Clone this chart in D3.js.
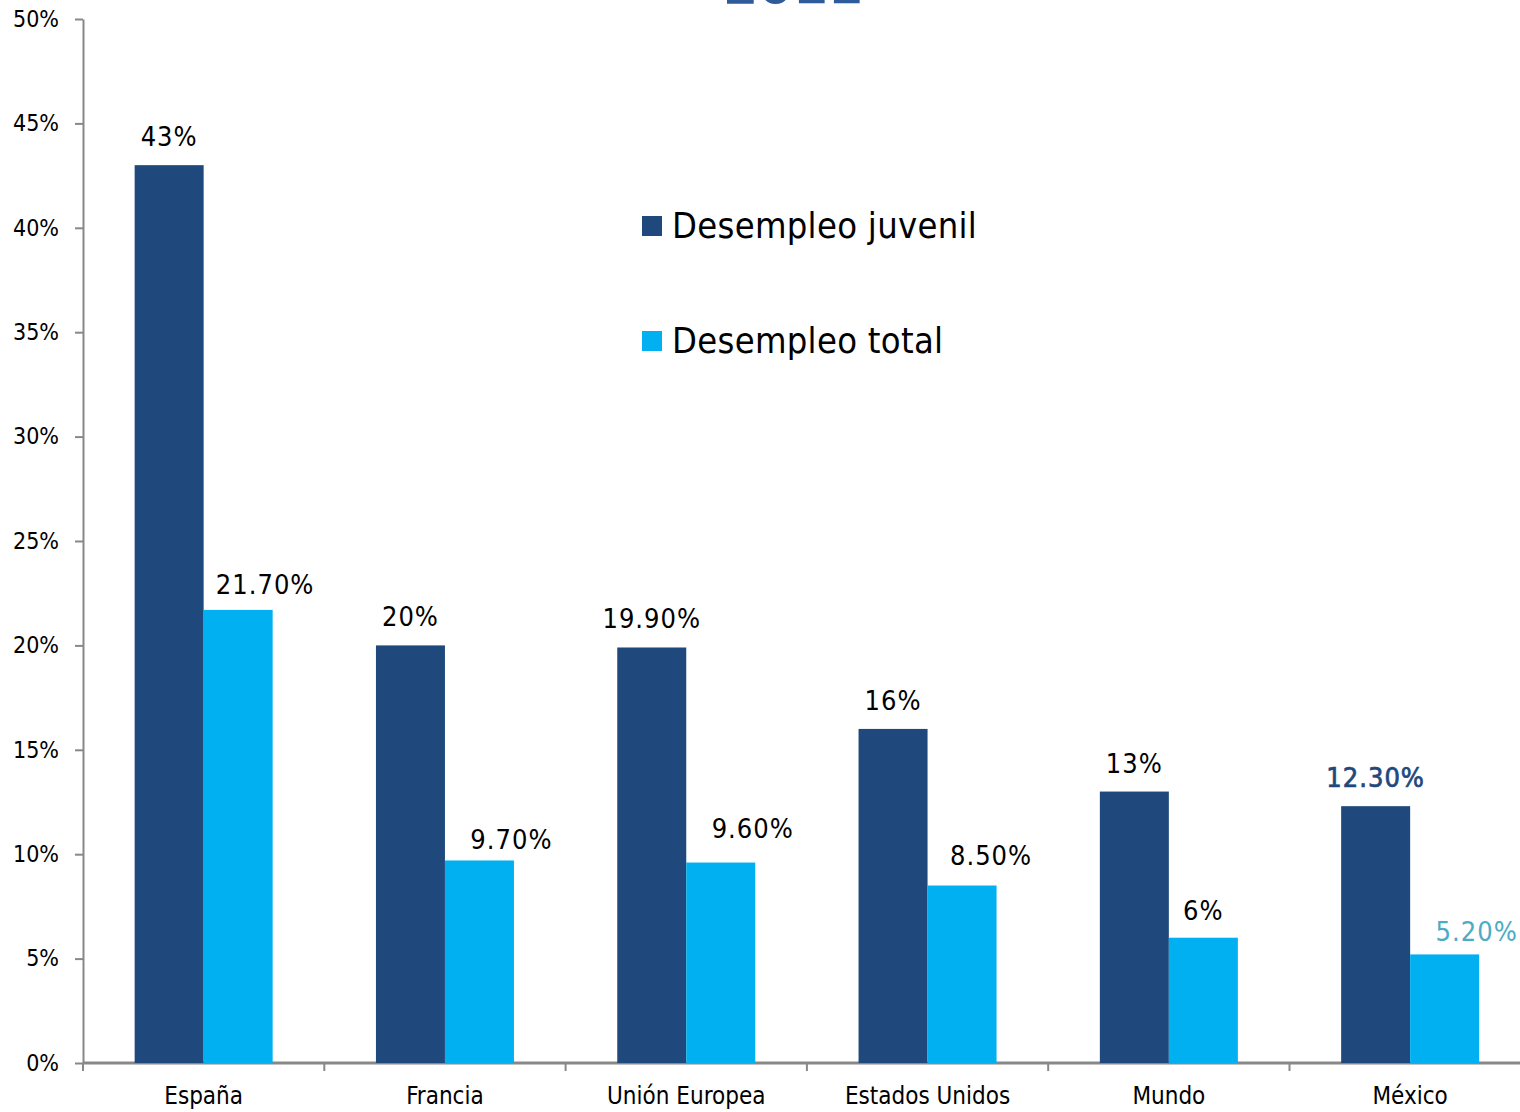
<!DOCTYPE html>
<html>
<head>
<meta charset="utf-8">
<script src="https://cdn.jsdelivr.net/npm/d3@7"></script>
<style>
  html,body{margin:0;padding:0;background:#fff;}
  svg{display:block;font-family:"DejaVu Sans Condensed","DejaVu Sans",sans-serif;}
</style>
</head>
<body>
<svg id="chart" width="1520" height="1112"></svg>
<script>
// data
const categories = ['España','Francia','Unión Europea','Estados Unidos','Mundo','México'];
const juvenil = [43, 20, 19.9, 16, 13, 12.3];
const total   = [21.7, 9.7, 9.6, 8.5, 6, 5.2];
const juvenilLabels = ['43%','20%','19.90%','16%','13%','12.30%'];
const totalLabels   = ['21.70%','9.70%','9.60%','8.50%','6%','5.20%'];
const yTicks = [0,5,10,15,20,25,30,35,40,45,50];
const seriesNames = ['Desempleo juvenil','Desempleo total'];

const DARK = '#1f497d', LIGHT = '#00b0f0', AXIS = '#888';
// hand nudges the original applied to the total labels (px)
const totalLabelDx = [27, 32, 32, 29, 0, 32];
const totalLabelGap = [16, 11, 25, 21, 18, 13];

const svg = d3.select('#chart');
const mLeft = 83, mBottom = 1063, mTop = 19;

const y = d3.scaleLinear().domain([0,50]).range([mBottom, mTop]);
const x0 = d3.scaleBand().domain(categories).range([mLeft, mLeft + 6*241.3]).padding(0);
const barW = 69;

// title (cut off at top in the original)
svg.append('text').attr('x', 793).attr('y', 3)
  .attr('text-anchor','middle').attr('font-size', 56).attr('font-weight','bold')
  .attr('fill','#2e5c9a').text('2011');

// y axis
const yAxis = svg.append('g').attr('transform',`translate(${mLeft},0)`)
  .call(d3.axisLeft(y).tickValues(yTicks).tickFormat(d=>d+'%').tickSize(8).tickSizeOuter(0));
yAxis.select('.domain').attr('stroke',AXIS).attr('stroke-width',2);
yAxis.selectAll('.tick line').attr('stroke',AXIS).attr('stroke-width',2);
yAxis.selectAll('.tick text').attr('font-size',23).attr('fill','#000').attr('x',-24)
  .attr('font-family','"DejaVu Sans Condensed",sans-serif');

// x axis line + boundary ticks
svg.append('line').attr('x1',mLeft).attr('x2',1520).attr('y1',mBottom).attr('y2',mBottom)
  .attr('stroke',AXIS).attr('stroke-width',3);
const bounds = categories.map(c=>x0(c)).concat([x0(categories[5])+x0.bandwidth()]);
svg.selectAll('line.xt').data(bounds.filter(b=>b<1520)).join('line').attr('class','xt')
  .attr('x1',d=>d).attr('x2',d=>d).attr('y1',mBottom).attr('y2',mBottom+8)
  .attr('stroke',AXIS).attr('stroke-width',2);
svg.selectAll('text.cat').data(categories).join('text').attr('class','cat')
  .attr('x',d=>x0(d)+x0.bandwidth()/2).attr('y',1104)
  .attr('text-anchor','middle').attr('font-size',24).text(d=>d);

// bars
const g = svg.append('g');
categories.forEach((c,i)=>{
  const cx = x0(c) + x0.bandwidth()/2;
  g.append('rect').attr('x',cx-barW).attr('width',barW)
    .attr('y',y(juvenil[i])).attr('height',mBottom-y(juvenil[i])).attr('fill',DARK);
  g.append('rect').attr('x',cx).attr('width',barW)
    .attr('y',y(total[i])).attr('height',mBottom-y(total[i])).attr('fill',LIGHT);
  const last = i === categories.length-1;
  g.append('text').attr('x',cx-barW/2).attr('y',y(juvenil[i])-19)
    .attr('text-anchor','middle').attr('font-size',27).attr('letter-spacing',1)
    .attr('fill', last ? DARK : '#000')
    .attr('stroke', last ? DARK : null).attr('stroke-width', last ? 0.7 : null)
    .text(juvenilLabels[i]);
  g.append('text').attr('x',cx+barW/2+totalLabelDx[i]).attr('y',y(total[i])-totalLabelGap[i])
    .attr('text-anchor','middle').attr('font-size',27).attr('letter-spacing',1)
    .attr('fill', last ? '#4bacc6' : '#000')
    .text(totalLabels[i]);
});

// legend
const leg = svg.append('g');
seriesNames.forEach((s,i)=>{
  const ly = 216 + i*115;
  leg.append('rect').attr('x',642).attr('y',ly).attr('width',20).attr('height',20)
    .attr('fill', i ? LIGHT : DARK);
  leg.append('text').attr('x',672).attr('y',ly+22).attr('font-size',36)
    .attr('letter-spacing',0.3).text(s);
});
</script>
</body>
</html>
